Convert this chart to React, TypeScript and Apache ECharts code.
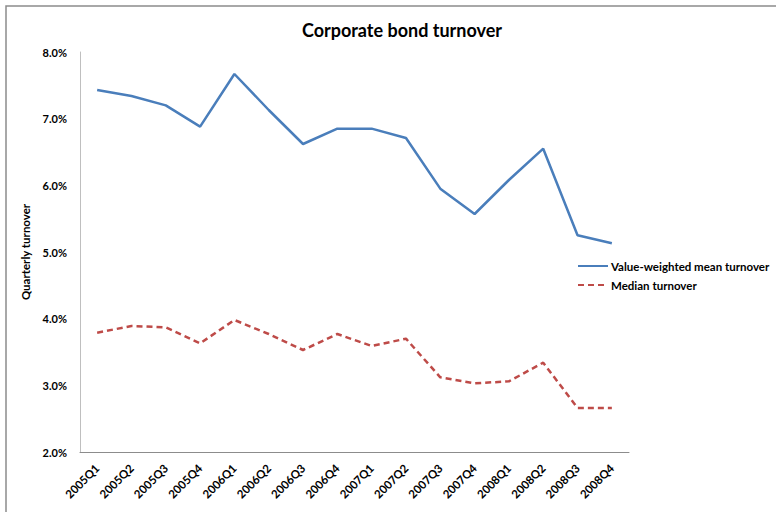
import React, { useEffect, useRef } from "react";
import * as echarts from "echarts";

const categories = [
  "2005Q1", "2005Q2", "2005Q3", "2005Q4",
  "2006Q1", "2006Q2", "2006Q3", "2006Q4",
  "2007Q1", "2007Q2", "2007Q3", "2007Q4",
  "2008Q1", "2008Q2", "2008Q3", "2008Q4",
];
const meanTurnover = [7.43, 7.34, 7.2, 6.88, 7.67, 7.13, 6.62, 6.85, 6.85, 6.71, 5.95, 5.57, 6.08, 6.55, 5.25, 5.13];
const medianTurnover = [3.79, 3.89, 3.87, 3.63, 3.98, 3.77, 3.53, 3.77, 3.59, 3.7, 3.12, 3.03, 3.06, 3.34, 2.66, 2.66];
const seriesNames = ["Value-weighted mean turnover", "Median turnover"];

const FONT = "Lato, 'Open Sans', sans-serif";

export default function App() {
  const ref = useRef<HTMLDivElement>(null);
  useEffect(() => {
    if (!ref.current) return;
    const chart = echarts.init(ref.current, undefined, { renderer: "svg" });
    chart.setOption({
      animation: false,
      backgroundColor: "#ffffff",
      title: {
        text: "Corporate bond turnover",
        left: 397,
        top: 16,
        textAlign: "center",
        textStyle: { fontFamily: FONT, fontSize: 18, fontWeight: "bold", color: "#000" },
      },
      graphic: [
        {
          type: "rect",
          shape: { x: 6, y: 6, width: 800, height: 600 },
          style: { fill: "none", stroke: "#8c8c8c", lineWidth: 1.5 },
          silent: true,
        },
      ],
      legend: {
        orient: "vertical",
        left: 572,
        top: 255,
        itemWidth: 30,
        itemHeight: 14,
        itemGap: 7,
        data: seriesNames,
        itemStyle: { opacity: 0 },
        textStyle: { fontFamily: FONT, fontSize: 11.5, fontWeight: "bold", color: "#000", padding: [0, 0, 0, -2] },
      },
      grid: { left: 80, right: 147, top: 52, bottom: 60 },
      xAxis: {
        type: "category",
        data: categories,
        boundaryGap: true,
        axisLine: { lineStyle: { color: "#8c8c8c", width: 1 } },
        axisTick: { show: false },
        axisLabel: {
          rotate: 45,
          margin: 14,
          interval: 0,
          fontFamily: FONT,
          fontSize: 11.5,
          fontWeight: "bold",
          color: "#000",
        },
      },
      yAxis: {
        type: "value",
        min: 2,
        max: 8,
        interval: 1,
        name: "Quarterly turnover",
        nameLocation: "middle",
        nameRotate: 90,
        nameGap: 46,
        nameTextStyle: { fontFamily: FONT, fontSize: 11.5, fontWeight: "bold", color: "#000" },
        axisLine: { show: true, lineStyle: { color: "#bfbfbf", width: 1 } },
        axisTick: { show: false },
        splitLine: { show: false },
        axisLabel: {
          margin: 13,
          fontFamily: FONT,
          fontSize: 11,
          fontWeight: "bold",
          color: "#000",
          formatter: (v: number) => v.toFixed(1) + "%",
        },
      },
      series: [
        {
          name: seriesNames[0],
          type: "line",
          data: meanTurnover,
          symbol: "none",
          lineStyle: { color: "#4a7ebb", width: 2.5 },
          itemStyle: { color: "#4a7ebb" },
        },
        {
          name: seriesNames[1],
          type: "line",
          data: medianTurnover,
          symbol: "none",
          lineStyle: { color: "#be4b48", width: 2.5, type: [6, 4] },
          itemStyle: { color: "#be4b48" },
        },
      ],
    });
    return () => chart.dispose();
  }, []);
  return (
    <div
      ref={ref}
      style={{ position: "absolute", left: 0, top: 0, width: 776, height: 512 }}
    />
  );
}
